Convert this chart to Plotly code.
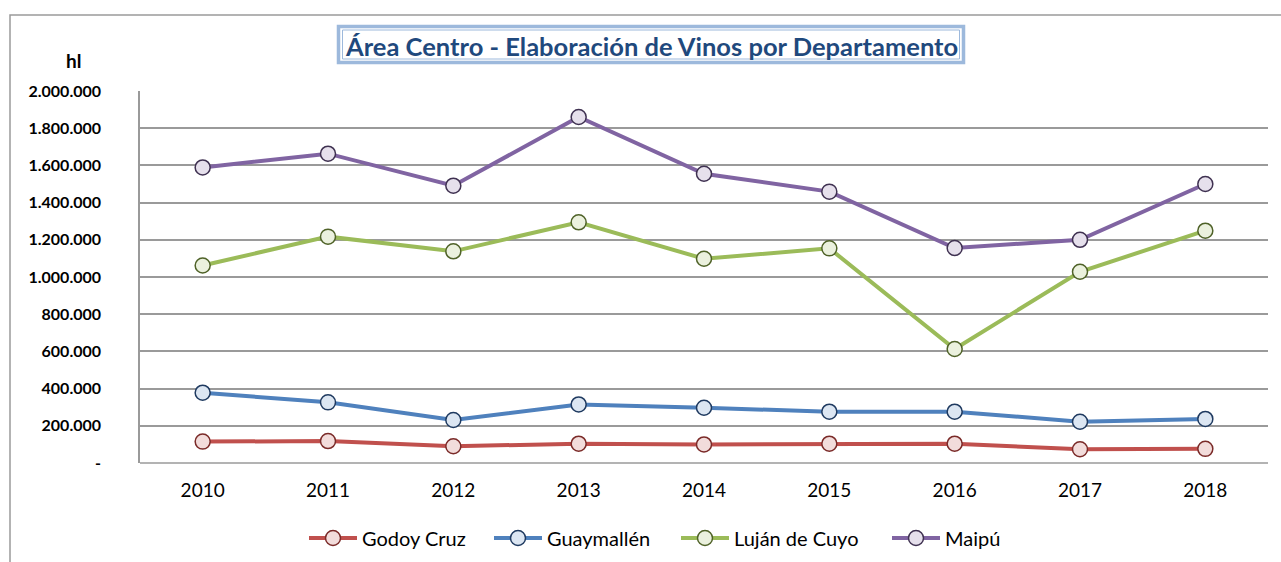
import plotly.graph_objects as go

years = ["2010", "2011", "2012", "2013", "2014", "2015", "2016", "2017", "2018"]
godoy_cruz = [115000, 118000, 90000, 104000, 100000, 104000, 104000, 74000, 76000]
guaymallen = [378000, 326000, 231000, 315000, 297000, 276000, 276000, 222000, 237000]
lujan_de_cuyo = [1062000, 1217000, 1138000, 1294000, 1098000, 1154000, 613000, 1028000, 1249000]
maipu = [1589000, 1663000, 1491000, 1860000, 1555000, 1459000, 1156000, 1200000, 1500000]

series_names = ["Godoy Cruz", "Guaymallén", "Luján de Cuyo", "Maipú"]
series_values = [godoy_cruz, guaymallen, lujan_de_cuyo, maipu]
line_colors = ["#C0504D", "#4F81BD", "#9BBB59", "#8064A2"]
fill_colors = ["#F2DCDB", "#DCE6F2", "#EBF1DE", "#E6E0EC"]
edge_colors = ["#7A2A28", "#1F3A60", "#4F6228", "#3F3151"]

y_tick_vals = [0, 200000, 400000, 600000, 800000, 1000000, 1200000, 1400000, 1600000, 1800000, 2000000]
y_tick_text = ["-", "200.000", "400.000", "600.000", "800.000", "1.000.000", "1.200.000",
               "1.400.000", "1.600.000", "1.800.000", "2.000.000"]

W, H = 1281, 562
L, R, T, B = 140, 1268, 91, 463

def px(x):
    return (x - L) / (R - L)

def py(y):
    return (B - y) / (B - T)

legend_ids = ["legend", "legend2", "legend3", "legend4"]
legend_left_px = [304, 489, 676, 887]

fig = go.Figure()
for name, vals, lc, fc, ec, lid in zip(series_names, series_values, line_colors, fill_colors, edge_colors, legend_ids):
    fig.add_trace(go.Scatter(
        x=years, y=vals, name=name, mode="lines+markers", legend=lid,
        line=dict(color=lc, width=4),
        marker=dict(symbol="circle", size=15, color=fc, line=dict(color=ec, width=1.5)),
    ))

font_family = "Lato, 'Open Sans', sans-serif"

legend_layout = {}
for lid, lx in zip(legend_ids, legend_left_px):
    legend_layout[lid] = dict(orientation="h", x=px(lx), xanchor="left", y=py(538), yanchor="middle",
                              font=dict(size=20, color="black"), itemwidth=48,
                              bgcolor="rgba(0,0,0,0)")

fig.update_layout(
    width=W, height=H,
    margin=dict(l=L, r=W - R, t=T, b=H - B, autoexpand=False),
    paper_bgcolor="white", plot_bgcolor="white",
    font=dict(family=font_family, color="black"),
    showlegend=True,
    xaxis=dict(type="category", range=[-0.5, 8.5], showgrid=False, showline=False,
               zeroline=False, ticks="", tickfont=dict(size=19, color="black"),
               ticklabelstandoff=14),
    yaxis=dict(range=[0, 2000000], tickvals=y_tick_vals, ticktext=y_tick_text,
               showgrid=True, gridcolor="#9A9A9A", gridwidth=1.5,
               showline=True, linecolor="#9A9A9A", linewidth=1.5,
               zeroline=False, ticks="", ticklabelstandoff=34,
               tickfont=dict(size=16, color="black", family="Lato, sans-serif", weight="bold")),
    shapes=[
        # outer chart frame (left & top visible)
        dict(type="rect", xref="paper", yref="paper", x0=px(10), x1=px(1300), y0=py(600), y1=py(15),
             line=dict(color="#9A9A9A", width=1.5), fillcolor="rgba(0,0,0,0)", layer="below"),
        # baseline
        dict(type="line", xref="paper", yref="paper", x0=0, x1=1, y0=0, y1=0,
             line=dict(color="#9A9A9A", width=1.5), layer="below"),
        # title box
        dict(type="rect", xref="paper", yref="paper", x0=px(338.5), x1=px(963.5), y0=py(62.5), y1=py(26.5),
             line=dict(color="#9DB9DC", width=3.5), fillcolor="white"),
        dict(type="rect", xref="paper", yref="paper", x0=px(342.5), x1=px(959.5), y0=py(59), y1=py(30),
             line=dict(color="#9DB9DC", width=1), fillcolor="rgba(0,0,0,0)"),
    ],
    annotations=[
        dict(text="<b>Área Centro - Elaboración de Vinos por Departamento</b>", xref="paper", yref="paper",
             x=px(651), y=py(46), xanchor="center", yanchor="middle", showarrow=False,
             font=dict(size=25.5, color="#1F497D", family=font_family)),
        dict(text="<b>hl</b>", xref="paper", yref="paper", x=px(73), y=py(60),
             xanchor="center", yanchor="middle", showarrow=False,
             font=dict(size=19, color="black", family=font_family)),
    ],
    **legend_layout,
)

fig.write_html("out.html", config={"displayModeBar": False},
               post_script="document.body.style.margin='0';document.body.style.overflow='hidden';")
